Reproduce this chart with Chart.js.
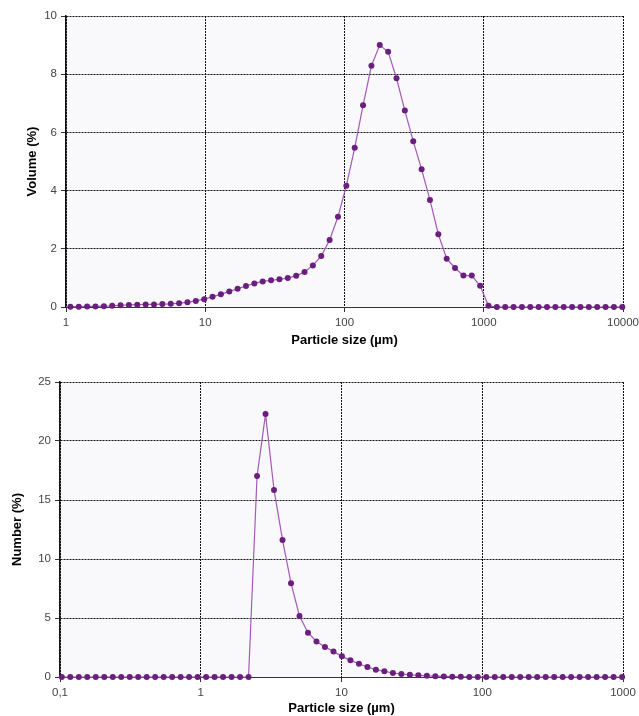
<!DOCTYPE html>
<html>
<head>
<meta charset="utf-8">
<title>Particle size distribution</title>
<script src="https://cdn.jsdelivr.net/npm/chart.js@4.4.0/dist/chart.umd.min.js"></script>
<style>
  html, body { margin: 0; padding: 0; background: #fff; overflow: hidden; width: 639px; height: 716px; }
  canvas { display: block; }
</style>
</head>
<body>
<canvas id="volumeChart" width="660" height="352"></canvas>
<canvas id="numberChart" width="660" height="364"></canvas>
<script>
// size classes (µm) of the markers, top chart
const volumeSizes = [1.075, 1.235, 1.418, 1.628, 1.870, 2.147, 2.465, 2.830, 3.250, 3.733,
  4.285, 4.921, 5.650, 6.489, 7.450, 8.556, 9.824, 11.28, 12.95, 14.88,
  17.08, 19.61, 22.52, 25.86, 29.70, 34.10, 39.15, 44.97, 51.64, 59.29,
  68.08, 78.18, 89.77, 103.1, 118.4, 135.9, 156.1, 179.2, 205.8, 236.3,
  271.3, 311.6, 357.8, 410.9, 471.8, 541.8, 622.1, 714.4, 820.3, 941.9,
  1081, 1242, 1426, 1638, 1880, 2159, 2479, 2847, 3269, 3754,
  4310, 4950, 5684, 6526, 7494, 8606, 9880];
const volumePercent = [0.01, 0.01, 0.02, 0.02, 0.03, 0.04, 0.06, 0.07, 0.08, 0.09,
  0.09, 0.10, 0.11, 0.13, 0.16, 0.21, 0.27, 0.35, 0.44, 0.53,
  0.63, 0.72, 0.81, 0.88, 0.92, 0.95, 1.00, 1.07, 1.20, 1.43,
  1.75, 2.30, 3.10, 4.17, 5.47, 6.93, 8.29, 9.00, 8.77, 7.86,
  6.75, 5.70, 4.73, 3.68, 2.50, 1.66, 1.34, 1.08, 1.08, 0.73,
  0.04, 0, 0, 0, 0, 0, 0, 0, 0, 0,
  0, 0, 0, 0, 0, 0, 0];

// size classes (µm) of the markers, bottom chart
const numberSizes = [0.1030, 0.1183, 0.1360, 0.1562, 0.1795, 0.2063, 0.2370, 0.2723, 0.3129, 0.3595,
  0.4130, 0.4746, 0.5452, 0.6265, 0.7198, 0.8270, 0.9502, 1.092, 1.254, 1.441,
  1.656, 1.903, 2.186, 2.512, 2.886, 3.316, 3.811, 4.378, 5.030, 5.780,
  6.640, 7.630, 8.767, 10.07, 11.57, 13.30, 15.28, 17.55, 20.17, 23.18,
  26.63, 30.60, 35.16, 40.40, 46.41, 53.33, 61.27, 70.41, 80.90, 92.95,
  106.8, 122.7, 141.0, 162.0, 186.1, 213.8, 245.7, 282.3, 324.3, 372.7,
  428.2, 492.0, 565.3, 649.5, 746.3, 857.5, 985.1];
const numberPercent = [0, 0, 0, 0, 0, 0, 0, 0, 0, 0,
  0, 0, 0, 0, 0, 0, 0, 0, 0, 0,
  0, 0, 0, 17.03, 22.28, 15.85, 11.62, 7.95, 5.17, 3.75,
  3.01, 2.54, 2.17, 1.75, 1.41, 1.12, 0.85, 0.62, 0.48, 0.34,
  0.25, 0.19, 0.14, 0.10, 0.07, 0.05, 0.03, 0.02, 0.01, 0,
  0, 0, 0, 0, 0, 0, 0, 0, 0, 0,
  0, 0, 0, 0, 0, 0, 0];

const volumeTicks = [1, 10, 100, 1000, 10000];
const volumeTickLabels = ['1', '10', '100', '1000', '10000'];
const numberTicks = [0.1, 1, 10, 100, 1000];
const numberTickLabels = ['0,1', '1', '10', '100', '1000'];

const plotBg = {
  id: 'plotBg',
  beforeDraw(chart) {
    const a = chart.chartArea;
    chart.ctx.save();
    chart.ctx.fillStyle = '#f9f9fb';
    chart.ctx.fillRect(a.left, a.top, a.right - a.left, a.bottom - a.top);
    chart.ctx.restore();
  }
};

function makeChart(id, sizes, values, cfg) {
  const points = sizes.map((s, i) => ({ x: s, y: values[i] }));
  const tickFont = { family: "'Liberation Sans', Arial, sans-serif", size: 11.5 };
  const titleFont = { family: "'Liberation Sans', Arial, sans-serif", size: 13, weight: 'bold' };
  return new Chart(document.getElementById(id), {
    type: 'scatter',
    data: {
      datasets: [{
        data: points,
        showLine: true,
        borderColor: '#a35ab5',
        borderWidth: 1.2,
        pointStyle: 'circle',
        pointRadius: 3,
        pointBackgroundColor: '#6a1f7e',
        pointBorderColor: '#6a1f7e',
        pointBorderWidth: 0,
        tension: 0,
        clip: false
      }]
    },
    options: {
      responsive: false,
      animation: false,
      layout: { padding: { top: cfg.padTop, right: 37, left: 0, bottom: 0 } },
      plugins: { legend: { display: false }, tooltip: { enabled: false } },
      scales: {
        x: {
          type: 'logarithmic',
          min: cfg.xTicks[0],
          max: cfg.xTicks[cfg.xTicks.length - 1],
          afterBuildTicks: (scale) => { scale.ticks = cfg.xTicks.map(v => ({ value: v })); },
          afterFit: (scale) => { scale.height = cfg.xHeight; },
          ticks: {
            autoSkip: false, maxRotation: 0, padding: 4, color: '#444', font: tickFont,
            callback: (v, i) => cfg.xLabels[i]
          },
          grid: { color: '#111', lineWidth: 1, tickLength: 5, tickColor: '#333' },
          border: { display: true, color: '#333', width: 1, dash: [2, 1] },
          title: {
            display: true, text: 'Particle size (µm)', color: '#000', font: titleFont,
            padding: { top: 2, bottom: cfg.xTitlePad }
          }
        },
        y: {
          min: 0,
          max: cfg.yMax,
          afterFit: (scale) => { scale.width = cfg.yWidth; },
          ticks: { stepSize: cfg.yStep, padding: 4, color: '#444', font: tickFont },
          grid: { color: '#111', lineWidth: 1, tickLength: 5, tickColor: '#333' },
          border: { display: true, color: '#111', width: 1.5, dash: [2, 1] },
          title: {
            display: true, text: cfg.yTitle, color: '#000', font: titleFont,
            padding: { top: cfg.yTitlePad, bottom: 0 }
          }
        }
      }
    },
    plugins: [plotBg]
  });
}

makeChart('volumeChart', volumeSizes, volumePercent, {
  padTop: 16, xHeight: 45, yWidth: 66, xTitlePad: 4, yTitlePad: 25,
  xTicks: volumeTicks, xLabels: volumeTickLabels,
  yMax: 10, yStep: 2, yTitle: 'Volume (%)'
});

makeChart('numberChart', numberSizes, numberPercent, {
  padTop: 30, xHeight: 39, yWidth: 60, xTitlePad: 0, yTitlePad: 10,
  xTicks: numberTicks, xLabels: numberTickLabels,
  yMax: 25, yStep: 5, yTitle: 'Number (%)'
});
</script>
</body>
</html>
